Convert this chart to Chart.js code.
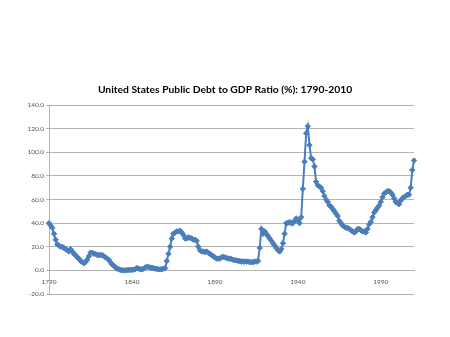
<!DOCTYPE html>
<html>
<head>
<meta charset="utf-8">
<script src="https://cdn.jsdelivr.net/npm/chart.js@4"></script>
<style>
  html, body { margin: 0; padding: 0; background: #fff; }
  #wrap { width: 450px; height: 337px; }
</style>
</head>
<body>
<div id="wrap"><canvas id="debtChart"></canvas></div>
<script>
// Años del eje X (1790-2010, uno por año)
const firstYear = 1790;
const lastYear = 2010;
const years = [];
for (let y = firstYear; y <= lastYear; y++) years.push(y);

// Deuda pública / PIB (%), una fila por década
const debtRatio = [
  40, 38, 36, 31, 26, 22, 21, 20, 20, 19,          // 1790s
  18, 17, 16, 18, 16, 14, 13, 11, 10, 8,           // 1800s
  7, 6, 7, 9, 12, 15, 15, 14, 14, 13,              // 1810s
  13, 13, 13, 12, 11, 10, 9, 7, 5, 4,              // 1820s
  2.5, 1.5, 1, 0.3, 0.2, 0, 0, 0.2, 0.3, 0.4,      // 1830s
  0.4, 0.6, 1, 2, 1.5, 1, 0.8, 1.5, 2.5, 3,        // 1840s
  2.8, 2.5, 2.2, 1.8, 1.5, 1.2, 1, 0.8, 1, 1.5,    // 1850s
  1.7, 8, 14, 20, 27, 31, 32, 33, 33, 33.5,        // 1860s
  32, 30, 27, 27, 28, 27.5, 27, 26, 26, 25,        // 1870s
  20, 17, 16, 16, 15.5, 16, 15, 14, 13, 12,        // 1880s
  11, 10, 10, 10, 11, 11.5, 11, 10.5, 10, 10,      // 1890s
  9.5, 9, 8.5, 8.5, 8, 8, 7.5, 7.5, 7.5, 7.5,      // 1900s
  7.5, 7, 7, 7, 7.5, 7.5, 8, 19, 35, 31,           // 1910s
  33, 31, 29, 27, 25, 23, 21, 19, 17, 16,          // 1920s
  18, 23, 31, 40, 40, 41, 40, 40, 42, 44,          // 1930s
  42, 40, 45, 69, 92, 116, 122, 106, 95, 94,       // 1940s
  88, 75, 72, 71, 70, 67, 63, 60, 58, 55,          // 1950s
  54, 52, 50, 48, 46, 42, 40, 38, 37, 36,          // 1960s
  36, 35, 34, 33, 32, 33, 35, 35, 34, 33,          // 1970s
  33, 32, 35, 39, 41, 45, 49, 51, 53, 55,          // 1980s
  58, 62, 65, 66, 67, 67, 66, 64, 61, 58,          // 1990s
  57, 56, 59, 61, 62, 63, 64, 64, 70, 85,          // 2000s
  93                                               // 2010
];

// Escala del eje Y
const yMin = -20;
const yMax = 140;
const yStep = 20;
const labelEvery = 50; // etiqueta del eje X cada 50 años

const titleText = 'United States Public Debt to GDP Ratio (%): 1790-2010';
const lineColor = '#4a7ebb';
const gridColor = '#b4b4b4';

// Título centrado sobre todo el lienzo (no sólo sobre el área del gráfico)
const centeredTitle = {
  id: 'centeredTitle',
  afterDraw(chart) {
    const ctx = chart.ctx;
    ctx.save();
    ctx.font = 'bold 10.3px Lato';
    ctx.fillStyle = '#000';
    ctx.textAlign = 'center';
    ctx.textBaseline = 'middle';
    ctx.fillText(titleText, chart.width / 2, 90);
    ctx.restore();
  }
};

new Chart(document.getElementById('debtChart'), {
  type: 'line',
  data: {
    labels: years,
    datasets: [{
      label: 'Debt to GDP',
      data: debtRatio,
      borderColor: lineColor,
      backgroundColor: lineColor,
      borderWidth: 2,
      pointStyle: 'rectRot',
      pointRadius: 2.7,
      pointBorderWidth: 1,
      tension: 0
    }]
  },
  plugins: [centeredTitle],
  options: {
    responsive: true,
    maintainAspectRatio: false,
    animation: false,
    layout: { padding: { top: 105, left: 20, right: 36, bottom: 43 } },
    plugins: {
      legend: { display: false },
      tooltip: { enabled: false },
      title: { display: false }
    },
    scales: {
      x: {
        type: 'category',
        position: { y: 0 },
        offset: false,
        grid: { display: false },
        border: { display: true, color: gridColor, width: 1 },
        ticks: {
          autoSkip: false,
          maxRotation: 0,
          padding: 0,
          color: '#555',
          font: { family: 'Lato', size: 6.5 },
          callback: function(val, idx) {
            const yr = years[idx];
            return (yr - firstYear) % labelEvery === 0 ? String(yr) : null;
          }
        }
      },
      y: {
        min: yMin,
        max: yMax,
        grid: { color: gridColor, lineWidth: 1, drawTicks: true, tickLength: 3 },
        border: { display: true, color: gridColor, width: 1 },
        ticks: {
          stepSize: yStep,
          padding: 2,
          color: '#555',
          font: { family: 'Lato', size: 6.5 },
          callback: v => v.toFixed(1)
        },
        afterFit: scale => { scale.width = 29; }
      }
    }
  }
});
</script>
</body>
</html>
